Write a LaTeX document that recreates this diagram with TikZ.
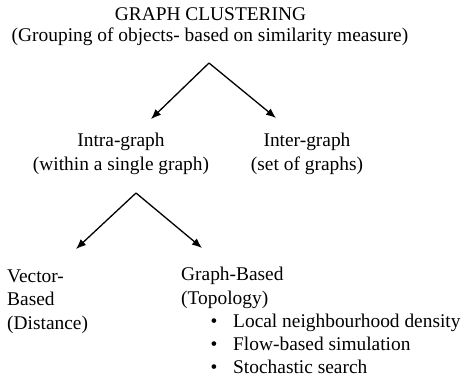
\documentclass[tikz,border=0pt]{standalone}
\usepackage{fontspec}
\setmainfont{Liberation Serif}
\usetikzlibrary{arrows.meta}

\begin{document}
\begin{tikzpicture}[x=1pt,y=-1pt,
    every node/.style={inner sep=0pt,font=\fontsize{19.4}{23.5}\selectfont},
    branch/.style={-{Latex[length=10pt,width=8pt]},line width=1.3pt}]
  \useasboundingbox (0,0) rectangle (468,381);

  % Title
  \node[anchor=base] (title) at (210.5,20) {GRAPH CLUSTERING};
  \node[anchor=base] (subtitle) at (210,41) {(Grouping of objects- based on similarity measure)};

  % Second level (base = last line)
  \node[anchor=base,align=center] (intra) at (121,170) {Intra-graph\\(within a single graph)};
  \node[anchor=base,align=center] (inter) at (307,170) {Inter-graph\\(set of graphs)};

  % Third level
  \node[anchor=base west,align=left] (vector) at (7,329) {Vector-\\Based\\(Distance)};
  \node[anchor=base west,align=left] (graphbased) at (181,304) {Graph-Based\\(Topology)};

  % Bullet items
  \foreach \y/\txt [count=\i] in {327/Local neighbourhood density, 350/Flow-based simulation, 373/Stochastic search} {
    \node[anchor=base] (dot\i) at (214,\y) {\textbullet};
    \node[anchor=base west] (item\i) at (233,\y) {\txt};
  }

  % Arrows
  \coordinate (forkA) at (209,63);
  \coordinate (tipA) at (151,119);
  \coordinate (tipB) at (276,118);
  \coordinate (forkB) at (136,193);
  \coordinate (tipC) at (76,249);
  \coordinate (tipD) at (202,248);
  \draw[branch] (forkA) -- (tipA);
  \draw[branch] (forkA) -- (tipB);
  \draw[branch] (forkB) -- (tipC);
  \draw[branch] (forkB) -- (tipD);
\end{tikzpicture}
\end{document}
